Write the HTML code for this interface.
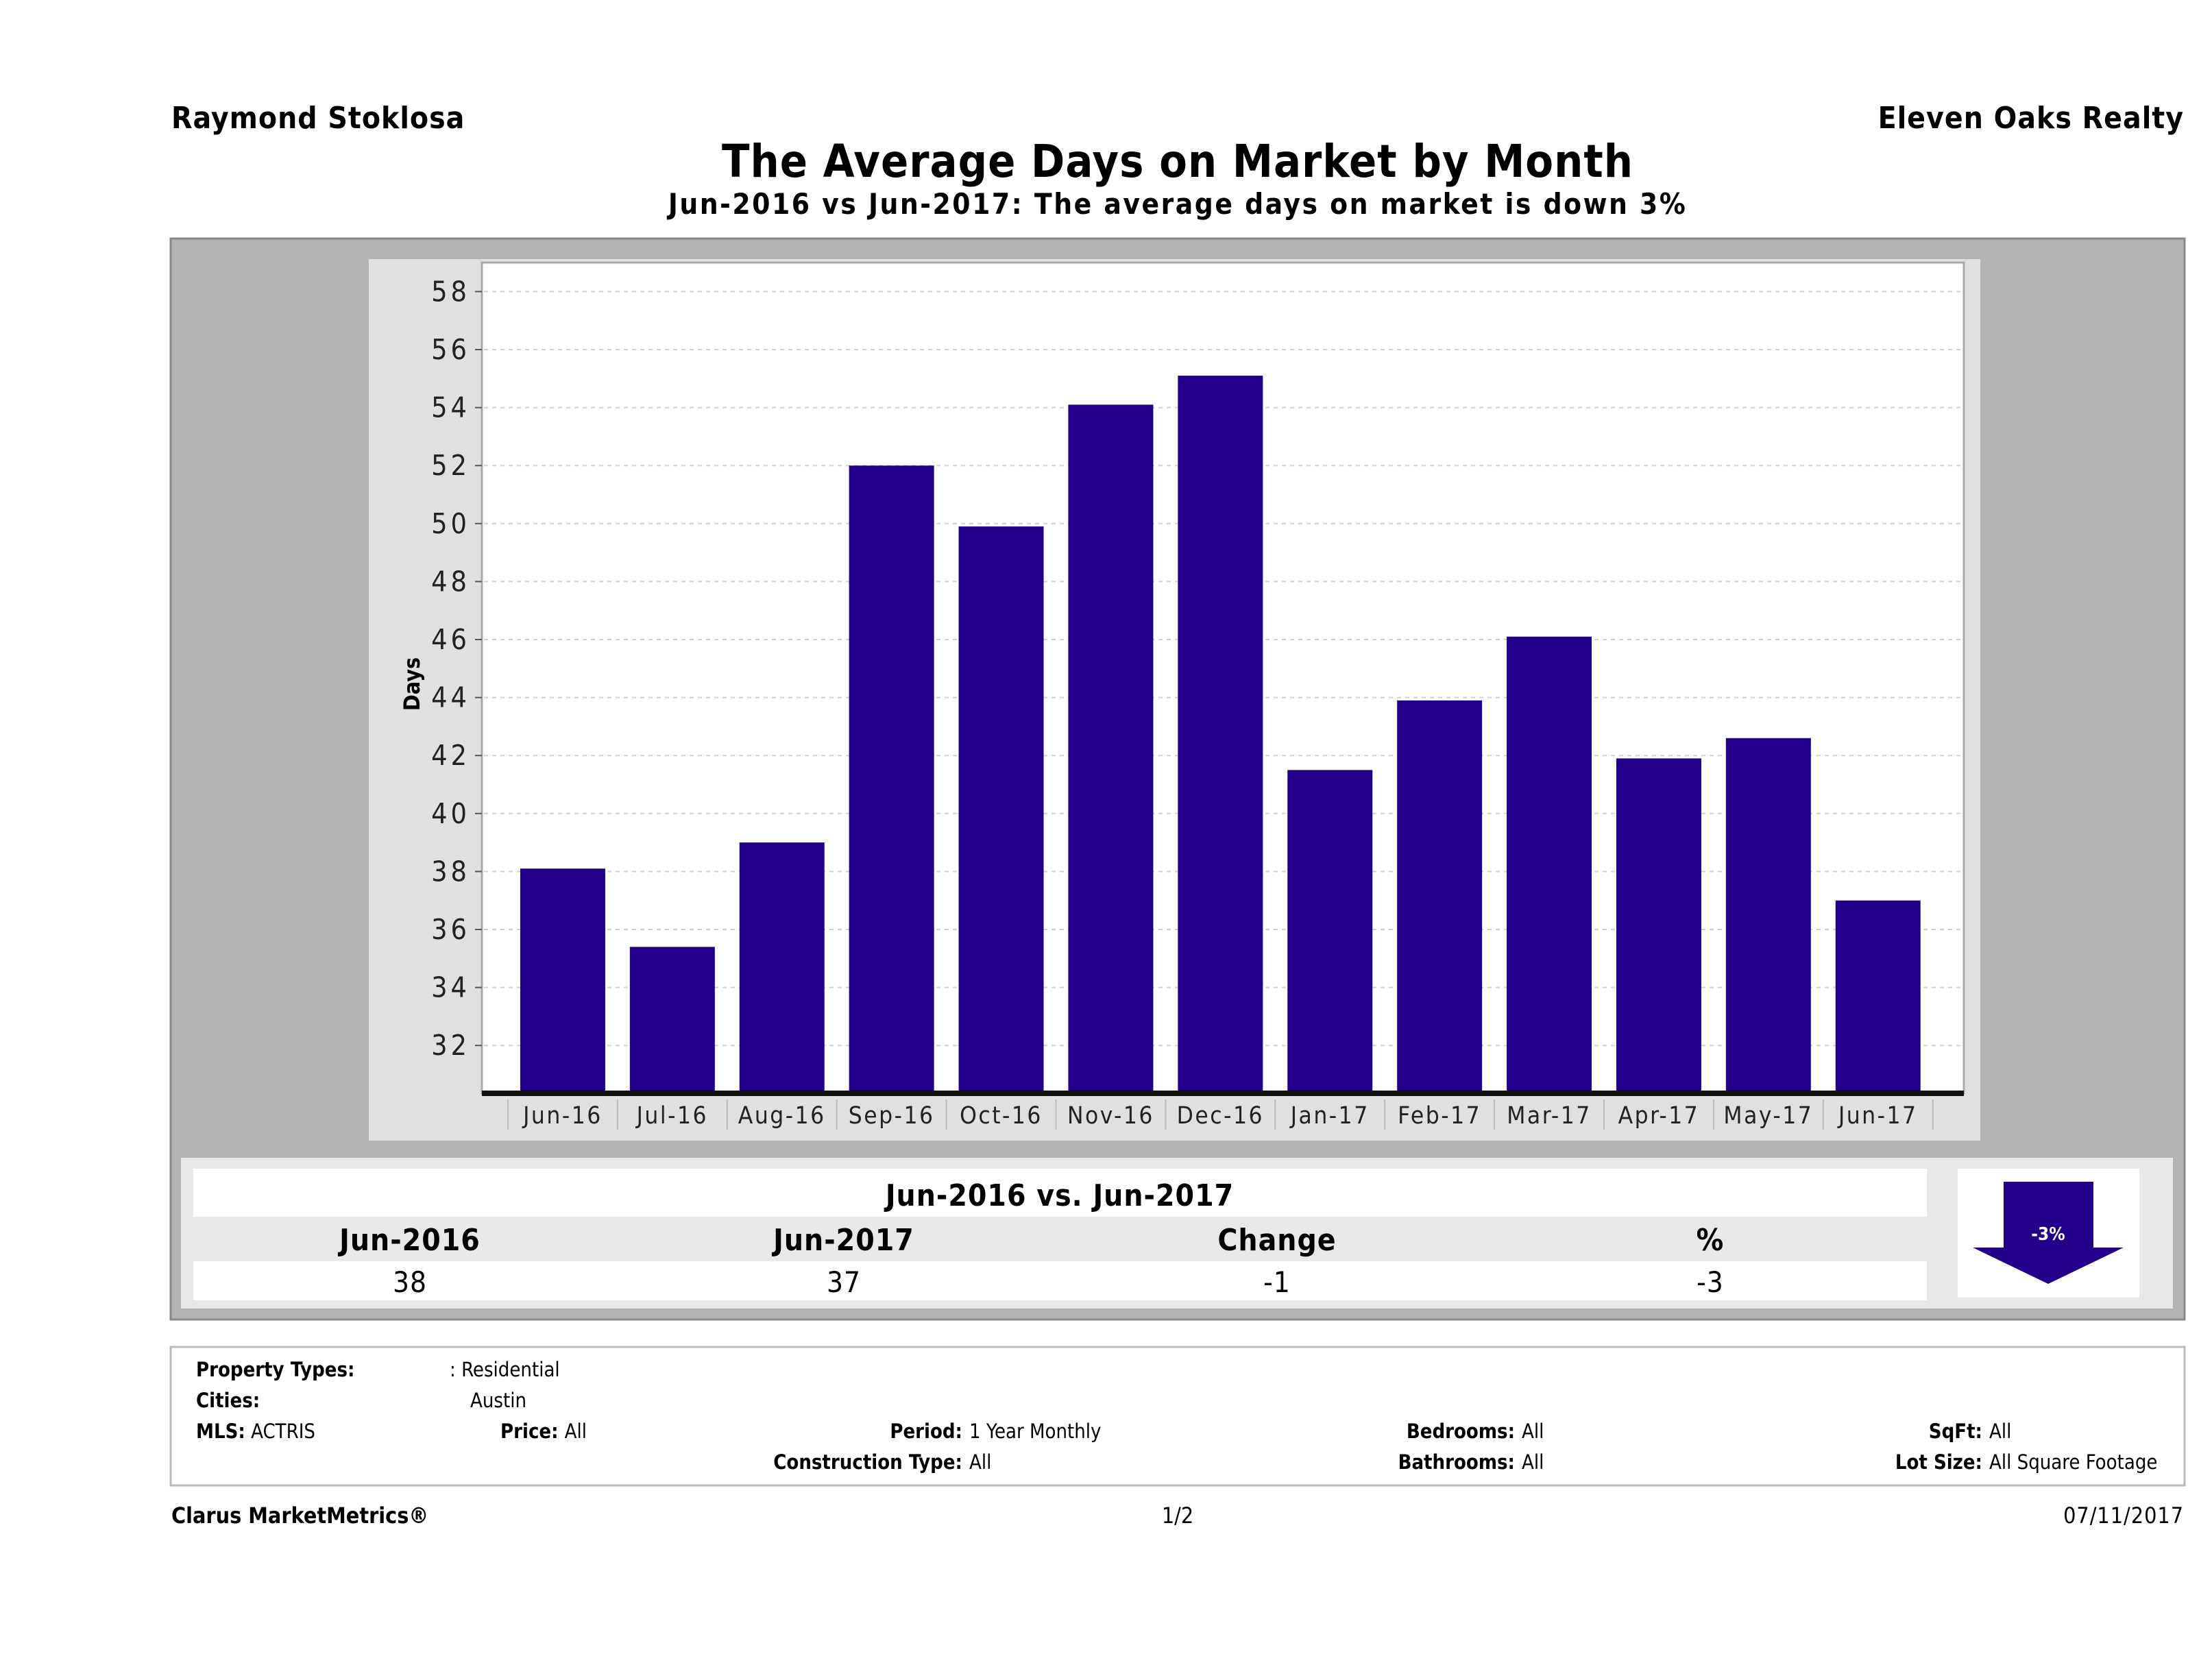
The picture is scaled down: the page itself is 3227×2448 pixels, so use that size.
<!DOCTYPE html>
<html><head><meta charset="utf-8"><style>
html,body{margin:0;padding:0;background:#fff;}
svg{display:block;font-family:"DejaVu Sans Condensed","Liberation Sans",sans-serif;}
</style></head><body>
<svg id="c" width="3227" height="2448" viewBox="0 0 3227 2448" xmlns="http://www.w3.org/2000/svg">
<text x="250" y="187" font-size="44" font-weight="bold" letter-spacing="1">Raymond Stoklosa</text>
<text x="3186" y="187" font-size="44" font-weight="bold" letter-spacing="1" text-anchor="end">Eleven Oaks Realty</text>
<text x="1718" y="258" font-size="66" font-weight="bold" letter-spacing="1" text-anchor="middle">The Average Days on Market by Month</text>
<text x="1718" y="312" font-size="42" font-weight="bold" letter-spacing="2.5" text-anchor="middle">Jun-2016 vs Jun-2017: The average days on market is down 3%</text>
<rect x="249" y="348" width="2938" height="1577" fill="#b3b3b3" stroke="#888" stroke-width="3"/>
<rect x="538" y="378" width="2351" height="1286" fill="#e0e0e0"/>
<rect x="703" y="383" width="2162" height="1212" fill="#fff" stroke="#aaa" stroke-width="3"/>
<g id="grid"></g>
<g id="bars"></g>
<g id="yaxis"></g>
<g id="xaxis"></g>
<text transform="translate(612,998) rotate(-90)" font-size="32" font-weight="bold" text-anchor="middle">Days</text>

<rect x="264" y="1689" width="2906" height="220" fill="#e8e8e8"/>
<rect x="282" y="1705" width="2529" height="70" fill="#fff"/>
<rect x="282" y="1840" width="2529" height="57" fill="#fff"/>
<text x="1546" y="1759" font-size="44" font-weight="bold" letter-spacing="1" text-anchor="middle">Jun-2016 vs. Jun-2017</text>
<g font-size="44" font-weight="bold" letter-spacing="1" text-anchor="middle">
<text x="598" y="1824">Jun-2016</text>
<text x="1231" y="1824">Jun-2017</text>
<text x="1863" y="1824">Change</text>
<text x="2495" y="1824">%</text>
</g>
<g font-size="42" text-anchor="middle" letter-spacing="1">
<text x="598" y="1885">38</text>
<text x="1231" y="1885">37</text>
<text x="1863" y="1885">-1</text>
<text x="2495" y="1885">-3</text>
</g>
<rect x="2856" y="1705" width="265" height="188" fill="#fff"/>
<polygon points="2923,1724 3054,1724 3054,1820 3098,1820 2988,1873 2878,1820 2923,1820" fill="#22008a"/>
<text x="2988" y="1809" font-size="26" font-weight="bold" fill="#fff" text-anchor="middle">-3%</text>

<rect x="249" y="1965" width="2938" height="202" fill="#fff" stroke="#bbb" stroke-width="3"/>
<g font-size="29">
<text x="286" y="2008" font-weight="bold">Property Types:</text><text x="656" y="2008">: Residential</text>
<text x="286" y="2053" font-weight="bold">Cities:</text><text x="686" y="2053">Austin</text>
<text x="286" y="2098"><tspan font-weight="bold">MLS:</tspan>   ACTRIS</text>
<text x="856" y="2098" text-anchor="end" font-weight="bold">Price: <tspan font-weight="normal">All</tspan></text>
<text x="1404" y="2098" text-anchor="end" font-weight="bold">Period:</text><text x="1414" y="2098">1 Year Monthly</text>
<text x="1404" y="2143" text-anchor="end" font-weight="bold">Construction Type:</text><text x="1414" y="2143">All</text>
<text x="2210" y="2098" text-anchor="end" font-weight="bold">Bedrooms:</text><text x="2220" y="2098">All</text>
<text x="2210" y="2143" text-anchor="end" font-weight="bold">Bathrooms:</text><text x="2220" y="2143">All</text>
<text x="2892" y="2098" text-anchor="end" font-weight="bold">SqFt:</text><text x="2902" y="2098">All</text>
<text x="2892" y="2143" text-anchor="end" font-weight="bold">Lot Size:</text><text x="2902" y="2143">All Square Footage</text>
</g>
<text x="250" y="2222" font-size="32" font-weight="bold">Clarus MarketMetrics®</text>
<text x="1718" y="2222" font-size="32" text-anchor="middle">1/2</text>
<text x="3186" y="2222" font-size="32" letter-spacing="1" text-anchor="end">07/11/2017</text>
</svg>
<script>
const categories=["Jun-16","Jul-16","Aug-16","Sep-16","Oct-16","Nov-16","Dec-16","Jan-17","Feb-17","Mar-17","Apr-17","May-17","Jun-17"];
const daysValues=[38.1,35.4,39,52,49.9,54.1,55.1,41.5,43.9,46.1,41.9,42.6,37];
const yTicks=[32,34,36,38,40,42,44,46,48,50,52,54,56,58];
const NS="http://www.w3.org/2000/svg";
const yMin=30.35, yPx=42.3, yBase=1595;
const y=v=>yBase-(v-yMin)*yPx;
const x0=741, band=159.9, barW=124;
const x=i=>x0+band*i+band/2;
function mk(t,a,p){const e=document.createElementNS(NS,t);for(const k in a)e.setAttribute(k,a[k]);p.appendChild(e);return e;}
const grid=document.getElementById('grid'),bars=document.getElementById('bars'),ya=document.getElementById('yaxis'),xa=document.getElementById('xaxis');
yTicks.forEach(t=>{
  const g=mk('line',{x1:706,x2:2862,y1:y(t),y2:y(t),stroke:'#d0d0d0','stroke-width':2,'stroke-dasharray':'6,6'},grid);
  
  
  mk('line',{x1:693,x2:703,y1:y(t),y2:y(t),stroke:'#555','stroke-width':2},ya);
  const l=mk('text',{x:686,y:y(t)+14,'font-size':41,'letter-spacing':5,'text-anchor':'end',fill:'#222'},ya);
  l.textContent=t;
  
  
});
daysValues.forEach((v,i)=>{
  const r=mk('rect',{x:x(i)-barW/2,y:y(v),width:barW,height:yBase-y(v),fill:'#22008a'},bars);
  
  
});
mk('line',{x1:703,x2:2865,y1:yBase,y2:yBase,stroke:'#111','stroke-width':8},xa);
for(let i=0;i<=categories.length;i++){mk('line',{x1:x0+band*i,x2:x0+band*i,y1:1604,y2:1648,stroke:'#bbb','stroke-width':2},xa);}
categories.forEach((c,i)=>{
  const l=mk('text',{x:x(i),y:1639,'font-size':35,'letter-spacing':2.5,'text-anchor':'middle',fill:'#222'},xa);
  l.textContent=c;
  
  
});
</script>
</body></html>
